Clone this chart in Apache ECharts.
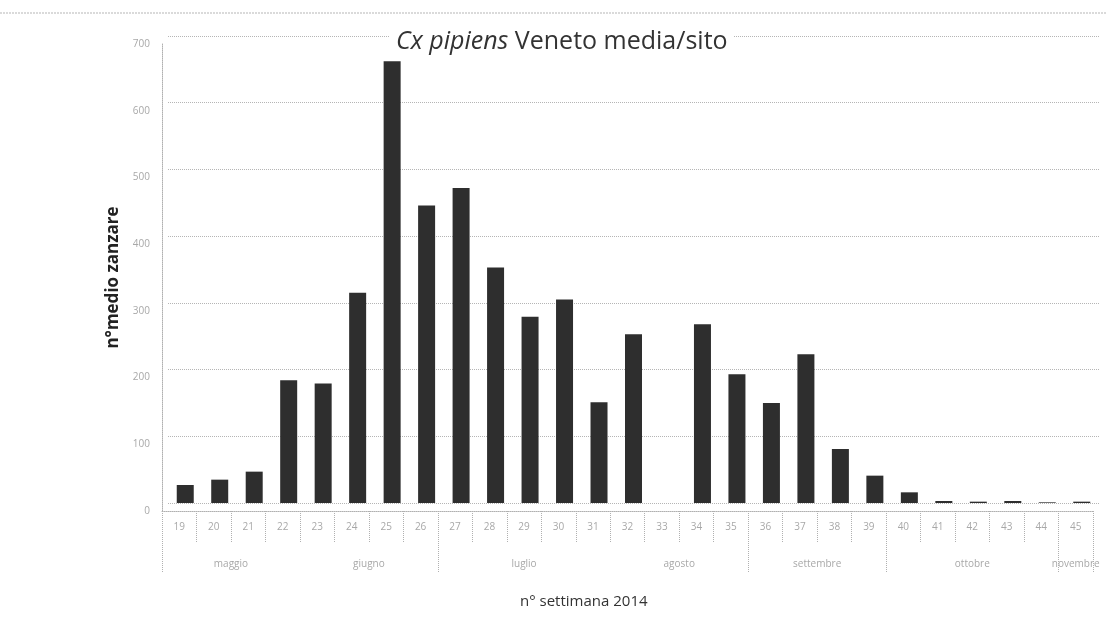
<!DOCTYPE html>
<html>
<head>
<meta charset="utf-8">
<script src="https://cdn.jsdelivr.net/npm/echarts@6/dist/echarts.min.js"></script>
<style>html,body{margin:0;padding:0;background:#fff}#c{width:1106px;height:628px}</style>
</head>
<body>
<div id="c"></div>
<script>
// ---- data ----
const weeks = ['19','20','21','22','23','24','25','26','27','28','29','30','31','32','33','34','35','36','37','38','39','40','41','42','43','44','45'];
const values = [27, 35, 47, 184, 179, 315, 662, 446, 472, 353, 279, 305, 151, 253, 0, 268, 193, 150, 223, 81, 41, 16, 3, 2, 3, 1, 2];
const months = ['maggio','giugno','luglio','agosto','settembre','ottobre','novembre'];
const monthFirstWeek = [19, 23, 27, 32, 36, 40, 45];
const monthLastWeek  = [22, 26, 31, 35, 39, 44, 45];
const monthDividers = [18.5, 26.5, 35.5, 39.5, 44.5, 45.5];
const yTicks = [0, 100, 200, 300, 400, 500, 600, 700];
const titleItalic = 'Cx pipiens';
const titleRest = ' Veneto media/sito';
const yName = 'n°medio zanzare';
const xName = 'n° settimana 2014';

const monthCenters = months.map((m, i) => (monthFirstWeek[i] + monthLastWeek[i]) / 2);
const monthByCenter = {};
monthCenters.forEach((c, i) => { monthByCenter[c] = months[i]; });

const gray = '#a8a8a8';
const font = '"Open Sans", "Liberation Sans", sans-serif';

const chart = echarts.init(document.getElementById('c'), null, {renderer: 'canvas'});
chart.setOption({
  animation: false,
  backgroundColor: '#fff',
  title: [{
    text: '{i|' + titleItalic + '}{n|' + titleRest + '}',
    left: 390, top: 29,
    backgroundColor: '#fff',
    padding: [0, 6],
    textStyle: {
      fontWeight: 'normal',
      rich: {
        i: {fontFamily: font, fontSize: 25, fontStyle: 'italic', fontWeight: 'normal', color: '#333'},
        n: {fontFamily: font, fontSize: 25, fontWeight: 'normal', color: '#333'}
      }
    },
    z: 10
  }, {
    text: xName,
    left: 515, top: 589,
    textStyle: {fontFamily: font, fontSize: 15, fontWeight: 'normal', color: '#333'}
  }],
  graphic: [{
    type: 'line', shape: {x1: 0, y1: 13, x2: 1106, y2: 13},
    style: {stroke: '#b5b5b5', lineWidth: 1, lineDash: [2, 1]}, silent: true
  }],
  grid: [
    {left: 168, right: 7, top: 36, bottom: 125},
    {left: 162, right: 13, top: 44, bottom: 117}
  ],
  xAxis: [{
    gridIndex: 0, type: 'category', data: weeks, show: false
  }, {
    gridIndex: 1, type: 'category', data: weeks, position: 'bottom',
    axisLine: {show: true, lineStyle: {color: '#b0b0b0', type: 'dotted', width: 1}},
    axisTick: {show: true, interval: 0, length: 32, lineStyle: {color: '#b0b0b0', type: 'dotted'}},
    axisLabel: {interval: 0, margin: 11, fontSize: 10, color: gray, fontFamily: font},
    splitLine: {show: false}
  }, {
    gridIndex: 1, type: 'value', min: 18.5, max: 45.5, position: 'bottom',
    axisLine: {show: false},
    axisTick: {show: true, customValues: monthDividers, length: 62, lineStyle: {color: '#b0b0b0', type: 'dotted'}},
    axisLabel: {customValues: monthCenters, margin: 48, fontSize: 10, color: gray, fontFamily: font,
      formatter: v => monthByCenter[v] || ''},
    splitLine: {show: false}
  }],
  yAxis: [{
    gridIndex: 0, type: 'value', min: 0, max: 700, interval: 100,
    axisLine: {show: false}, axisTick: {show: false}, axisLabel: {show: false},
    splitLine: {show: true, lineStyle: {color: '#b5b5b5', type: 'dotted', width: 1}}
  }, {
    gridIndex: 1, type: 'value', min: 0, max: 700, interval: 100,
    axisLine: {show: true, lineStyle: {color: '#b0b0b0', type: 'dotted'}},
    axisTick: {show: false},
    splitLine: {show: false},
    axisLabel: {margin: 12, fontSize: 10, color: gray, fontFamily: font,
      customValues: yTicks},
    name: yName, nameLocation: 'middle', nameGap: 33,
    nameTextStyle: {fontFamily: font, fontSize: 17, fontWeight: 'bold', color: '#222'}
  }],
  series: [{
    type: 'bar', xAxisIndex: 0, yAxisIndex: 0, data: values,
    barWidth: 17,
    itemStyle: {color: '#2e2e2e'}
  }]
});
</script>
</body>
</html>
